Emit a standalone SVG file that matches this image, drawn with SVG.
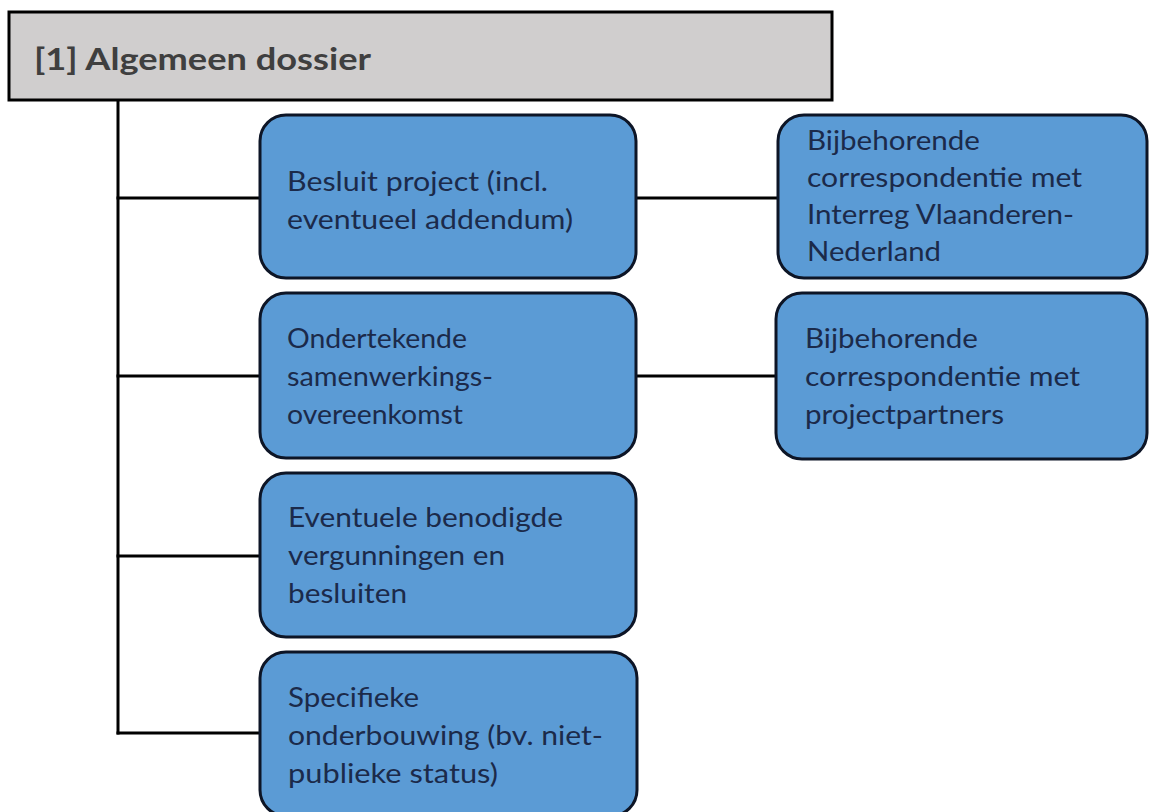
<svg xmlns="http://www.w3.org/2000/svg" width="1149" height="812" viewBox="0 0 1149 812">
  <style>
    .bg { fill: #ffffff; }
    .header { fill: #d0cece; stroke: #000000; stroke-width: 3; }
    .header-text { font-family: Lato, "Liberation Sans", sans-serif; font-size: 31px; font-weight: 700; fill: #3f3f3f; }
    .box { fill: #5b9bd5; stroke: #0d1526; stroke-width: 3; }
    .label { font-family: Lato, "Liberation Sans", sans-serif; font-size: 27px; fill: #1b2a4a; }
    .link { stroke: #000000; stroke-width: 3; fill: none; }
  </style>

  <rect class="bg" x="0" y="0" width="1149" height="812"/>

  <!-- tree connectors -->
  <g id="connectors">
    <line class="link" x1="118" y1="100" x2="118" y2="734.5"/>
    <line class="link" x1="116.5" y1="198" x2="260" y2="198"/>
    <line class="link" x1="116.5" y1="376" x2="260" y2="376"/>
    <line class="link" x1="116.5" y1="556" x2="260" y2="556"/>
    <line class="link" x1="116.5" y1="733" x2="260" y2="733"/>
    <line class="link" x1="636" y1="198" x2="778" y2="198"/>
    <line class="link" x1="636" y1="376" x2="776" y2="376"/>
  </g>

  <!-- root -->
  <g id="root">
    <rect class="header" x="9" y="12" width="823" height="88"/>
    <text class="header-text" x="34" y="70" textLength="337" lengthAdjust="spacingAndGlyphs">[1] Algemeen dossier</text>
  </g>

  <g id="besluit">
    <rect class="box" x="260" y="115" width="376" height="163" rx="26"/>
    <text class="label" x="287" y="191" textLength="261" lengthAdjust="spacingAndGlyphs">Besluit project (incl.</text>
    <text class="label" x="287" y="229" textLength="286" lengthAdjust="spacingAndGlyphs">eventueel addendum)</text>
  </g>

  <g id="correspondentie-interreg">
    <rect class="box" x="778" y="115" width="369" height="163" rx="26"/>
    <text class="label" x="807" y="150" textLength="173" lengthAdjust="spacingAndGlyphs">Bijbehorende</text>
    <text class="label" x="807" y="187" textLength="275" lengthAdjust="spacingAndGlyphs">correspondentie  met</text>
    <text class="label" x="807" y="224" textLength="267" lengthAdjust="spacingAndGlyphs">Interreg Vlaanderen-</text>
    <text class="label" x="807" y="261" textLength="134" lengthAdjust="spacingAndGlyphs">Nederland</text>
  </g>

  <g id="samenwerkingsovereenkomst">
    <rect class="box" x="260" y="293" width="376" height="165" rx="26"/>
    <text class="label" x="287" y="348" textLength="180" lengthAdjust="spacingAndGlyphs">Ondertekende</text>
    <text class="label" x="287" y="386" textLength="206" lengthAdjust="spacingAndGlyphs">samenwerkings-</text>
    <text class="label" x="287" y="424" textLength="176" lengthAdjust="spacingAndGlyphs">overeenkomst</text>
  </g>

  <g id="correspondentie-partners">
    <rect class="box" x="776" y="293" width="371" height="166" rx="26"/>
    <text class="label" x="805" y="348" textLength="173" lengthAdjust="spacingAndGlyphs">Bijbehorende</text>
    <text class="label" x="805" y="386" textLength="275" lengthAdjust="spacingAndGlyphs">correspondentie  met</text>
    <text class="label" x="805" y="424" textLength="199" lengthAdjust="spacingAndGlyphs">projectpartners</text>
  </g>

  <g id="vergunningen">
    <rect class="box" x="260" y="473" width="376" height="164" rx="26"/>
    <text class="label" x="288" y="527" textLength="275" lengthAdjust="spacingAndGlyphs">Eventuele benodigde</text>
    <text class="label" x="288" y="565" textLength="217" lengthAdjust="spacingAndGlyphs">vergunningen en</text>
    <text class="label" x="288" y="603" textLength="119" lengthAdjust="spacingAndGlyphs">besluiten</text>
  </g>

  <g id="onderbouwing">
    <rect class="box" x="260" y="652" width="377" height="164" rx="26"/>
    <text class="label" x="288" y="707" textLength="131" lengthAdjust="spacingAndGlyphs">Specifieke</text>
    <text class="label" x="288" y="745" textLength="315" lengthAdjust="spacingAndGlyphs">onderbouwing  (bv. niet-</text>
    <text class="label" x="288" y="783" textLength="210" lengthAdjust="spacingAndGlyphs">publieke  status)</text>
  </g>
</svg>
